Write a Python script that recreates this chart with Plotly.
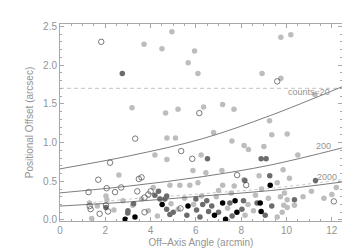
import plotly.graph_objects as go

# ---- data ----
light_x = [3.71, 4.50, 4.94, 5.94, 5.66, 6.09, 3.18, 4.66, 5.21, 9.75, 10.19, 8.92, 9.75, 6.34, 7.18, 7.68, 11.25, 9.25,
           4.72, 5.10, 4.19, 4.72, 2.60, 5.87, 6.23, 6.78, 7.59, 8.13, 8.32, 9.35, 9.00, 10.03, 10.50, 6.44, 7.15, 8.12,
           7.18, 7.69, 8.79, 9.85, 10.13, 9.59, 12.20, 11.10, 6.09, 7.56, 8.63, 9.91,
           4.12, 4.85, 5.29, 5.73, 2.03, 2.07, 2.78, 1.65, 1.40, 2.38, 3.21, 5.22, 6.25, 9.73, 10.03, 10.73, 11.65,
           9.88, 10.03, 10.35, 9.81, 9.59, 8.17, 8.54, 1.30, 3.90, 4.30, 5.50, 6.90, 7.40, 8.30, 9.20, 12.00, 3.60,
           4.90, 5.90, 7.00, 8.90]
light_y = [2.27, 2.21, 2.43, 2.18, 2.03, 1.89, 1.45, 1.38, 1.43, 2.36, 2.39, 1.89, 1.83, 1.46, 1.49, 1.43, 1.62, 1.28,
           1.06, 1.06, 0.84, 0.78, 0.58, 0.64, 0.84, 1.13, 1.02, 0.96, 0.91, 1.10, 0.95, 1.11, 0.84, 0.61, 0.64, 0.52,
           0.45, 0.44, 0.57, 0.65, 0.54, 0.48, 0.42, 0.37, 0.48, 0.35, 0.32, 0.35,
           0.42, 0.45, 0.45, 0.45, 0.31, 0.26, 0.25, 0.18, 0.02, 0.13, 0.19, 0.14, 0.31, 0.30, 0.26, 0.30, 0.28,
           0.19, 0.16, 0.19, 0.10, 0.04, 0.06, 0.12, 0.22, 0.12, 0.05, 0.28, 0.30, 0.15, 0.20, 0.28, 0.33, 0.27,
           0.21, 0.20, 0.38, 0.40]

dark_x = [2.75, 6.51, 8.88, 9.10, 8.16, 9.26, 11.28, 2.03, 2.99, 3.25, 4.19, 4.41, 4.63, 4.71, 4.71, 4.85, 6.03, 6.18,
          6.48, 6.70, 8.10, 6.56, 9.06, 9.35, 8.03, 10.35, 3.00, 5.00, 6.30, 7.00, 7.50, 7.60, 8.70, 5.60, 4.35, 6.00]
dark_y = [1.89, 0.79, 0.79, 0.79, 0.51, 0.57, 0.51, 0.16, 0.09, 0.21, 0.32, 0.27, 0.27, 0.31, 0.14, 0.07, 0.13, 0.04,
          0.25, 0.18, 0.25, 0.11, 0.06, 0.18, 0.14, 0.26, 0.12, 0.10, 0.20, 0.10, 0.22, 0.05, 0.22, 0.06, 0.37, 0.27]

black_x = [2.88, 3.31, 4.51, 5.65, 7.18, 7.73, 8.84, 8.88, 7.81, 6.82, 7.31, 9.28]
black_y = [0.01, 0.04, 0.20, 0.18, 0.22, 0.25, 0.22, 0.11, 0.10, 0.06, 0.01, 0.45]

open_x = [1.82, 6.15, 9.59, 3.32, 5.35, 2.21, 1.69, 3.48, 3.60, 1.26, 2.06, 2.43, 2.70, 3.41, 4.00, 3.90, 3.73,
          1.31, 1.35, 2.03, 2.12, 1.75, 3.73, 5.32, 5.84, 7.82, 8.22, 12.09]
open_y = [2.30, 1.38, 1.79, 1.05, 0.89, 0.74, 0.52, 0.53, 0.55, 0.36, 0.41, 0.36, 0.42, 0.37, 0.37, 0.33, 0.29,
          0.18, 0.14, 0.19, 0.11, 0.08, 0.10, 0.15, 0.79, 0.58, 0.45, 0.24]

# model curves
curve_x = [0.0, 3.1, 6.3, 9.3, 12.45]
c20_y = [0.66, 0.83, 1.05, 1.35, 1.72]
c200_y = [0.35, 0.44, 0.56, 0.71, 0.93]
c2000_y = [0.18, 0.235, 0.31, 0.38, 0.49]
dot_x = [1.2, 3.1, 6.3, 9.3, 12.45]
dot_y = [0.22, 0.27, 0.34, 0.41, 0.52]

limit_y = 1.7
labels = ["counts=20", "200", "2000"]
label_x = [11.0, 11.65, 11.8]
label_y = [1.65, 0.96, 0.555]

x_range = [0, 12.45]
y_range = [-0.013, 2.53]

TXT = "#949494"
AX = "#a8a8a8"
FONT = "Liberation Sans"

fig = go.Figure()

fig.add_trace(go.Scatter(x=x_range, y=[limit_y, limit_y], mode="lines",
                         line=dict(color="#c4c4c4", width=1, dash="4px,3px"), hoverinfo="skip"))
fig.add_trace(go.Scatter(x=dot_x, y=dot_y, mode="lines", line_shape="spline",
                         line=dict(color="#c8c8c8", width=1, dash="dot")))

fig.add_trace(go.Scatter(x=light_x, y=light_y, mode="markers",
                         marker=dict(size=5.5, color="#bdbdbd", line=dict(width=0))))
fig.add_trace(go.Scatter(x=dark_x, y=dark_y, mode="markers",
                         marker=dict(size=5.5, color="#6c6c6c", line=dict(width=0))))
fig.add_trace(go.Scatter(x=black_x, y=black_y, mode="markers",
                         marker=dict(size=5.5, color="#000000", line=dict(width=0))))
fig.add_trace(go.Scatter(x=open_x, y=open_y, mode="markers",
                         marker=dict(size=5.5, color="rgba(255,255,255,0)", line=dict(width=0.7, color="#444444"))))

for cy in (c20_y, c200_y, c2000_y):
    fig.add_trace(go.Scatter(x=curve_x, y=cy, mode="lines", line_shape="spline",
                             line=dict(color="#5a5a5a", width=0.8)))

for t, lx, ly in zip(labels, label_x, label_y):
    fig.add_annotation(x=lx, y=ly, text=t, showarrow=False, font=dict(size=9, color=TXT, family=FONT))

axis_common = dict(showgrid=False, zeroline=False, showline=True, linecolor=AX, linewidth=1,
                   mirror="ticks", ticks="inside", tickcolor=AX, ticklen=4,
                   tickfont=dict(size=10, color=TXT, family=FONT))

fig.update_xaxes(range=x_range, dtick=2, tick0=0,
                 minor=dict(dtick=0.5, ticks="inside", ticklen=2, tickcolor=AX),
                 title=dict(text="Off\u2013Axis Angle (arcmin)", font=dict(size=10, color=TXT, family=FONT), standoff=3),
                 **axis_common)
fig.update_yaxes(range=y_range, dtick=0.5, tick0=0, tickformat=".1f",
                 minor=dict(dtick=0.1, ticks="inside", ticklen=2, tickcolor=AX),
                 title=dict(text="Positional Offset (arcsec)", font=dict(size=10, color=TXT, family=FONT), standoff=7),
                 **axis_common)

fig.update_layout(width=350, height=250, margin=dict(l=52, r=16, t=16, b=35),
                  paper_bgcolor="white", plot_bgcolor="white", showlegend=False)

fig.write_html("out.html")
